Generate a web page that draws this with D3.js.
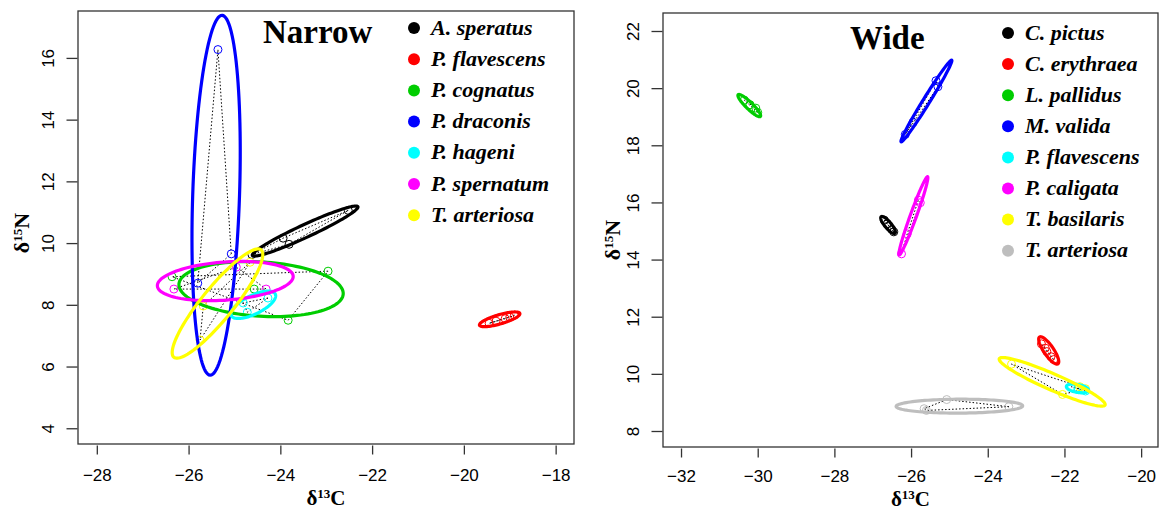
<!DOCTYPE html>
<html>
<head>
<meta charset="utf-8">
<script src="https://cdn.jsdelivr.net/npm/d3@7"></script>
<style>
  body { margin: 0; background: #fff; }
  svg { display: block; }
</style>
</head>
<body>
<script>
// ---------- Narrow panel data ----------
var narrowNames = ["A. speratus", "P. flavescens", "P. cognatus", "P. draconis", "P. hageni", "P. spernatum", "T. arteriosa"];
var narrowColors = ["#000000", "#ff0000", "#00cd00", "#0000ff", "#00ffff", "#ff00ff", "#ffff00"];
// ellipse: centre d13C, centre d15N, tip d13C, tip d15N, minor/major ratio
var narrowEllipses = [
  [-23.46, 10.39, -22.31, 11.18, 0.11],
  [-19.22, 7.53, -18.78, 7.72, 0.22],
  [-24.42, 8.51, -22.63, 8.35, 0.33],
  [-25.40, 11.55, -25.27, 17.38, 0.13],
  [-24.59, 8.00, -24.11, 8.35, 0.38],
  [-25.20, 8.77, -23.72, 8.93, 0.28],
  [-25.37, 8.04, -24.42, 9.78, 0.23]
];
var narrowPoints = [
  [[-24.62, 9.63], [-23.94, 10.16], [-23.81, 9.96], [-22.52, 11.06]],
  [[-19.45, 7.40], [-19.30, 7.47], [-19.10, 7.55], [-18.90, 7.66], [-19.00, 7.60]],
  [[-26.36, 8.91], [-24.57, 8.51], [-22.96, 9.09], [-23.83, 7.50]],
  [[-25.36, 16.27], [-25.07, 9.65], [-25.80, 8.70]],
  [[-24.81, 8.06], [-24.72, 7.76], [-24.27, 8.22]],
  [[-26.32, 8.51], [-24.31, 8.51], [-24.96, 9.22]],
  [[-25.75, 6.86], [-25.68, 7.96], [-24.66, 9.38]]
];
var narrowXTicks = [-28, -26, -24, -22, -20, -18];
var narrowYTicks = [4, 6, 8, 10, 12, 14, 16];

// ---------- Wide panel data ----------
var wideNames = ["C. pictus", "C. erythraea", "L. pallidus", "M. valida", "P. flavescens", "P. caligata", "T. basilaris", "T. arteriosa"];
var wideColors = ["#000000", "#ff0000", "#00cd00", "#0000ff", "#00ffff", "#ff00ff", "#ffff00", "#bebebe"];
var wideEllipses = [
  [-26.60, 15.21, -26.42, 14.92, 0.3],
  [-22.41, 10.82, -22.17, 10.35, 0.3],
  [-30.22, 19.39, -29.93, 19.01, 0.22],
  [-25.60, 19.55, -24.94, 20.98, 0.07],
  [-21.66, 9.49, -21.37, 9.42, 0.35],
  [-25.94, 15.53, -25.57, 16.90, 0.075],
  [-22.32, 9.72, -20.94, 8.91, 0.14],
  [-24.74, 8.87, -23.09, 8.88, 0.11]
];
var widePoints = [
  [[-26.70, 15.38], [-26.62, 15.25], [-26.50, 15.05], [-26.45, 14.97]],
  [[-22.60, 11.05], [-22.46, 10.78], [-22.35, 10.60], [-22.28, 10.50], [-22.50, 10.90]],
  [[-30.35, 19.58], [-30.20, 19.42], [-30.05, 19.30], [-30.00, 19.15]],
  [[-26.15, 18.38], [-25.95, 18.80], [-25.35, 20.26], [-25.30, 20.05]],
  [[-21.82, 9.55], [-21.65, 9.50], [-21.50, 9.45], [-21.45, 9.40]],
  [[-26.25, 14.20], [-26.10, 14.90], [-25.81, 16.08], [-25.76, 15.99]],
  [[-23.38, 10.34], [-22.05, 9.28], [-21.60, 9.55], [-21.45, 9.48]],
  [[-25.66, 8.78], [-25.07, 9.10], [-23.45, 8.85], [-25.60, 8.72]]
];
var wideXTicks = [-32, -30, -28, -26, -24, -22, -20];
var wideYTicks = [8, 10, 12, 14, 16, 18, 20, 22];

var svg = d3.select("body").append("svg")
  .attr("width", 1160)
  .attr("height", 511);

function drawPanel(p) {
  var x = d3.scaleLinear().domain(p.xDomain).range([p.left, p.right]);
  var y = d3.scaleLinear().domain(p.yDomain).range([p.bottom, p.top]);
  var g = svg.append("g");

  // clip to the plot frame
  var clipId = "clip-" + p.id;
  g.append("clipPath").attr("id", clipId)
    .append("rect")
    .attr("x", p.left).attr("y", p.top)
    .attr("width", p.right - p.left).attr("height", p.bottom - p.top);
  var plot = g.append("g").attr("clip-path", "url(#" + clipId + ")");

  // convex hulls (dotted)
  p.points.forEach(function(pts) {
    var px = pts.map(function(d) { return [x(d[0]), y(d[1])]; });
    var hull = px.length >= 3 ? d3.polygonHull(px) : px;
    if (!hull) hull = px;
    plot.append("path")
      .attr("d", "M" + hull.join("L") + "Z")
      .attr("fill", "none")
      .attr("stroke", "#000")
      .attr("stroke-width", 1)
      .attr("stroke-dasharray", "1.5,2");
  });

  // points (open circles)
  p.points.forEach(function(pts, i) {
    plot.selectAll(null).data(pts).enter().append("circle")
      .attr("cx", function(d) { return x(d[0]); })
      .attr("cy", function(d) { return y(d[1]); })
      .attr("r", 4)
      .attr("fill", "none")
      .attr("stroke", p.colors[i])
      .attr("stroke-width", 1);
  });

  // standard ellipses
  var line = d3.line().curve(d3.curveLinearClosed);
  p.ellipses.forEach(function(e, i) {
    var cx = x(e[0]), cy = y(e[1]);
    var ux = x(e[2]) - cx, uy = y(e[3]) - cy;
    var vx = -uy * e[4], vy = ux * e[4];
    var pts = d3.range(0, 120).map(function(k) {
      var t = k / 120 * 2 * Math.PI;
      return [cx + Math.cos(t) * ux + Math.sin(t) * vx,
              cy + Math.cos(t) * uy + Math.sin(t) * vy];
    });
    plot.append("path")
      .attr("d", line(pts))
      .attr("fill", "none")
      .attr("stroke", p.colors[i])
      .attr("stroke-width", 3.2);
  });

  // frame
  g.append("rect")
    .attr("x", p.left).attr("y", p.top)
    .attr("width", p.right - p.left).attr("height", p.bottom - p.top)
    .attr("fill", "none")
    .attr("stroke", "#333")
    .attr("stroke-width", 1.3);

  // x axis
  var xAxis = g.append("g")
    .attr("transform", "translate(0," + (p.bottom + 1.5) + ")")
    .call(d3.axisBottom(x).tickValues(p.xTicks).tickSize(9).tickPadding(p.xPad).tickSizeOuter(0));
  xAxis.select(".domain").remove();
  xAxis.selectAll("line").attr("stroke", "#333").attr("stroke-width", 1.3);
  xAxis.selectAll("text")
    .attr("fill", "#000")
    .style("font-family", "'Liberation Sans', Arial, sans-serif")
    .style("font-size", "17px");

  // y axis (labels rotated like R's default)
  var yAxis = g.append("g")
    .attr("transform", "translate(" + (p.left - 0.5) + ",0)")
    .call(d3.axisLeft(y).tickValues(p.yTicks).tickSize(11).tickSizeOuter(0));
  yAxis.select(".domain").remove();
  yAxis.selectAll("line").attr("stroke", "#333").attr("stroke-width", 1.3);
  yAxis.selectAll("text")
    .attr("x", null).attr("dy", null).attr("y", 0)
    .attr("text-anchor", "middle")
    .attr("transform", "translate(-24,0) rotate(-90)")
    .attr("fill", "#000")
    .style("font-family", "'Liberation Sans', Arial, sans-serif")
    .style("font-size", "17px");

  var serif = "'Liberation Serif', 'Times New Roman', serif";

  // axis titles
  var xt = g.append("text")
    .attr("x", (p.left + p.right) / 2).attr("y", p.xTitleY)
    .attr("text-anchor", "middle")
    .style("font-family", serif).style("font-weight", "bold").style("font-size", "21px");
  xt.append("tspan").text("δ");
  xt.append("tspan").attr("dy", -7).style("font-size", "13px").text("13");
  xt.append("tspan").attr("dy", 7).text("C");

  var yt = g.append("text")
    .attr("transform", "translate(" + p.yTitleX + "," + p.yTitleY + ") rotate(-90)")
    .attr("text-anchor", "middle")
    .style("font-family", serif).style("font-weight", "bold").style("font-size", "22px");
  yt.append("tspan").text("δ");
  yt.append("tspan").attr("dy", -7).style("font-size", "13px").text("15");
  yt.append("tspan").attr("dy", 7).text("N");

  // panel title
  g.append("text")
    .attr("x", p.titleX).attr("y", p.titleY)
    .style("font-family", serif).style("font-weight", "bold").style("font-size", "33px")
    .text(p.title);

  // legend
  var leg = g.selectAll(".leg").data(p.names).enter().append("g")
    .attr("transform", function(d, i) { return "translate(" + p.legX + "," + (p.legY + i * p.legStep) + ")"; });
  leg.append("circle")
    .attr("r", 6)
    .attr("fill", function(d, i) { return p.colors[i]; });
  leg.append("text")
    .attr("x", 17).attr("y", 6.5)
    .style("font-family", serif).style("font-weight", "bold").style("font-style", "italic")
    .style("font-size", "22px")
    .text(function(d) { return d; });
}

drawPanel({
  id: "narrow", title: "Narrow", titleX: 263, titleY: 43,
  left: 78, right: 574, top: 11, bottom: 444,
  xDomain: [-28.41, -17.60], yDomain: [3.49, 17.52],
  xTicks: narrowXTicks, yTicks: narrowYTicks, xPad: 14,
  names: narrowNames, colors: narrowColors,
  ellipses: narrowEllipses, points: narrowPoints,
  xTitleY: 505, yTitleX: 29, yTitleY: 233,
  legX: 414, legY: 28, legStep: 31.2
});

drawPanel({
  id: "wide", title: "Wide", titleX: 850, titleY: 49,
  left: 663, right: 1158, top: 13, bottom: 447,
  xDomain: [-32.47, -19.56], yDomain: [7.44, 22.63],
  xTicks: wideXTicks, yTicks: wideYTicks, xPad: 12,
  names: wideNames, colors: wideColors,
  ellipses: wideEllipses, points: widePoints,
  xTitleY: 506, yTitleX: 620, yTitleY: 240,
  legX: 1008, legY: 33, legStep: 31.1
});
</script>
</body>
</html>
